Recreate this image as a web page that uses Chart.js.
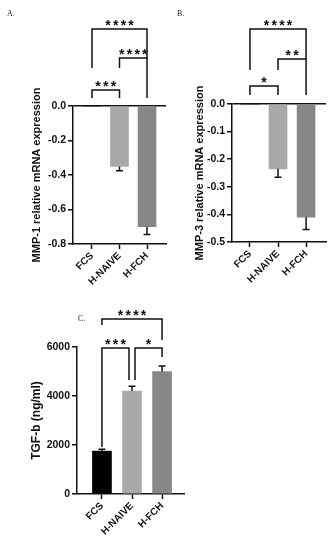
<!DOCTYPE html>
<html>
<head>
<meta charset="utf-8">
<title>MMP-1, MMP-3 and TGF-b</title>
<script src="https://cdn.jsdelivr.net/npm/chart.js@4.4.1/dist/chart.umd.min.js"></script>
<style>
  body { margin: 0; background: #fff; }
  #wrap { position: relative; width: 333px; height: 550px; overflow: hidden; }
  canvas { position: absolute; }
  .tag { position: absolute; font-family: "Liberation Serif", serif; font-size: 8px; line-height: 1; color: #222; }
</style>
</head>
<body>
<div id="wrap">
  <canvas id="chartA" width="170" height="300" style="left:0;top:0"></canvas>
  <canvas id="chartB" width="168" height="300" style="left:165px;top:0"></canvas>
  <canvas id="chartC" width="190" height="270" style="left:0;top:280px"></canvas>
  <div class="tag" style="left:7px;top:10px">A.</div>
  <div class="tag" style="left:177px;top:10px">B.</div>
  <div class="tag" style="left:78px;top:315px">C.</div>
</div>
<script>
// Groups on the x axis
const categories = ["FCS", "H-NAIVE", "H-FCH"];

// MMP-1 relative mRNA expression (mean and SEM)
const mmp1Values = [0, -0.35, -0.70];
const mmp1Errors = [0, 0.025, 0.045];
const mmp1Ticks = [0, -0.2, -0.4, -0.6, -0.8];

// MMP-3 relative mRNA expression
const mmp3Values = [0, -0.235, -0.41];
const mmp3Errors = [0, 0.03, 0.045];
const mmp3Ticks = [0, -0.1, -0.2, -0.3, -0.4, -0.5];

// TGF-b (ng/ml)
const tgfbValues = [1750, 4200, 5000];
const tgfbErrors = [80, 200, 220];
const tgfbTicks = [0, 2000, 4000, 6000];

// Significance comparisons: [group a, group b, stars]
const mmp1Signif = [[0, 2, "****"], [1, 2, "****"], [0, 1, "***"]];
const mmp3Signif = [[0, 2, "****"], [1, 2, "**"], [0, 1, "*"]];
const tgfbSignif = [[0, 2, "****"], [0, 1, "***"], [1, 2, "*"]];

const barColors = ["#000000", "#a9a9a9", "#878787"];
const ink = "#111";

Chart.defaults.font.family = "'Liberation Sans', Arial, sans-serif";
Chart.defaults.color = ink;

// Draws error bars and the significance brackets on top of the bars
function makeExtras(values, errors, signif, places) {
  return {
    id: "extras",
    afterDatasetsDraw(chart) {
      const ctx = chart.ctx;
      const xs = chart.scales.x;
      const ys = chart.scales.y;
      ctx.save();
      ctx.strokeStyle = ink;
      ctx.fillStyle = ink;
      ctx.lineWidth = 1.5;

      values.forEach((v, i) => {
        if (!errors[i]) return;
        const px = xs.getPixelForValue(i);
        const y0 = ys.getPixelForValue(v);
        const y1 = ys.getPixelForValue(v + Math.sign(v) * errors[i]);
        ctx.beginPath();
        ctx.moveTo(px, y0);
        ctx.lineTo(px, y1);
        ctx.moveTo(px - 3.5, y1);
        ctx.lineTo(px + 3.5, y1);
        ctx.stroke();
      });

      ctx.font = "bold 14px 'Liberation Sans', Arial, sans-serif";
      ctx.textAlign = "center";
      ctx.textBaseline = "alphabetic";
      signif.forEach(([a, b, stars], k) => {
        const p = places[k];
        const x1 = xs.getPixelForValue(a) + (p.dx1 || 0);
        const x2 = xs.getPixelForValue(b) + (p.dx2 || 0);
        ctx.beginPath();
        ctx.moveTo(x1, p.tip1);
        ctx.lineTo(x1, p.y);
        ctx.lineTo(x2, p.y);
        ctx.lineTo(x2, p.tip2);
        ctx.stroke();
        const mid = (x1 + x2) / 2;
        for (let s = 0; s < stars.length; s++) {
          ctx.fillText("*", mid + (s - (stars.length - 1) / 2) * 7.7, p.y + 1);
        }
      });
      ctx.restore();
    },
  };
}

function makeChart(id, cfg) {
  return new Chart(document.getElementById(id), {
    type: "bar",
    data: {
      datasets: [
        {
          data: cfg.values.map((v, i) => ({ x: i, y: v })),
          backgroundColor: barColors,
          borderWidth: 0,
          barThickness: cfg.barWidth,
        },
      ],
    },
    options: {
      responsive: false,
      animation: false,
      devicePixelRatio: 1,
      layout: { padding: { top: cfg.top, right: cfg.right, left: 0, bottom: 0 } },
      plugins: { legend: { display: false }, tooltip: { enabled: false } },
      scales: {
        x: {
          type: "linear",
          offset: false,
          min: cfg.xMin,
          max: cfg.xMax,
          afterBuildTicks: (s) => {
            s.ticks = categories.map((c, i) => ({ value: i }));
          },
          afterFit: (s) => {
            s.height = cfg.xHeight;
          },
          ticks: {
            callback: (v) => categories[v],
            minRotation: 45,
            maxRotation: 45,
            autoSkip: false,
            padding: 1,
            font: { size: 10, weight: "bold" },
            color: ink,
          },
          grid: { offset: false, drawOnChartArea: false, tickLength: 5, tickColor: ink, tickWidth: 1.5 },
          border: { color: ink, width: 1.5 },
        },
        y: {
          min: cfg.yMin,
          max: cfg.yMax,
          afterBuildTicks: (s) => {
            s.ticks = cfg.ticks.map((v) => ({ value: v }));
          },
          afterFit: (s) => {
            s.width = cfg.yWidth;
          },
          ticks: {
            callback: cfg.fmt,
            padding: 2,
            font: { size: 10.5, weight: "bold" },
            color: ink,
          },
          grid: {
            color: (c) => (cfg.zeroLine && c.tick && Math.abs(c.tick.value) < 1e-9 ? ink : "rgba(0,0,0,0)"),
            lineWidth: 1.5,
            tickLength: 5,
            tickColor: ink,
            tickWidth: 1.5,
          },
          border: { color: ink, width: 1.5 },
          title: {
            display: true,
            text: cfg.title,
            font: { size: cfg.titleSize, weight: "bold" },
            color: ink,
            padding: { top: cfg.titlePad, bottom: 0 },
          },
        },
      },
    },
    plugins: [makeExtras(cfg.values, cfg.errors, cfg.signif, cfg.places)],
  });
}

makeChart("chartA", {
  values: mmp1Values,
  errors: mmp1Errors,
  signif: mmp1Signif,
  ticks: mmp1Ticks,
  fmt: (v) => v.toFixed(1),
  yMin: -0.8, yMax: 0, zeroLine: true,
  xMin: -0.69, xMax: 2.69,
  top: 106, right: 4, yWidth: 73, xHeight: 56,
  barWidth: 18,
  title: "MMP-1 relative mRNA expression", titleSize: 11, titlePad: 30,
  places: [
    { y: 29, tip1: 68, tip2: 58 },
    { y: 58, tip1: 68, tip2: 98 },
    { y: 90, tip1: 98, tip2: 98 },
  ],
});

makeChart("chartB", {
  values: mmp3Values,
  errors: mmp3Errors,
  signif: mmp3Signif,
  ticks: mmp3Ticks,
  fmt: (v) => v.toFixed(1),
  yMin: -0.5, yMax: 0, zeroLine: true,
  xMin: -0.64, xMax: 2.71,
  top: 104, right: 7, yWidth: 67, xHeight: 58,
  barWidth: 18,
  title: "MMP-3 relative mRNA expression", titleSize: 11, titlePad: 28,
  places: [
    { y: 29, tip1: 70, tip2: 59 },
    { y: 59, tip1: 70, tip2: 95 },
    { y: 86, tip1: 95, tip2: 95 },
  ],
});

makeChart("chartC", {
  values: tgfbValues,
  errors: tgfbErrors,
  signif: tgfbSignif,
  ticks: tgfbTicks,
  fmt: (v) => String(v),
  yMin: 0, yMax: 6000, zeroLine: false,
  xMin: -0.83, xMax: 2.73,
  top: 67, right: 6, yWidth: 77, xHeight: 56,
  barWidth: 19,
  title: "TGF-b (ng/ml)", titleSize: 12, titlePad: 29,
  places: [
    { y: 39, tip1: 45, tip2: 60 },
    { y: 68, tip1: 167, tip2: 100, dx2: -3 },
    { y: 68, tip1: 100, tip2: 77, dx1: 3 },
  ],
});
</script>
</body>
</html>
